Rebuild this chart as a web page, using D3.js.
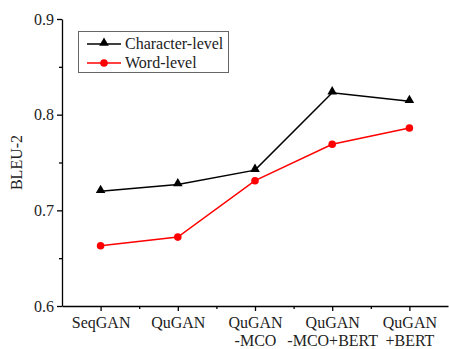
<!DOCTYPE html>
<html>
  <head>
    <meta charset="utf-8">
    <title>BLEU-2</title>
    <script src="https://d3js.org/d3.v7.min.js"></script>
    <style>
      body { margin: 0; background: #fff; }
      .axis path, .axis line { stroke: #000; stroke-width: 1.3; }
    </style>
  </head>
  <body>
    <svg id="chart" width="449" height="349"></svg>
    <script>
      // chart data
      var categories = [["SeqGAN"], ["QuGAN"], ["QuGAN", "-MCO"], ["QuGAN", "-MCO+BERT"], ["QuGAN", "+BERT"]];
      var charLevel = [0.720, 0.727, 0.742, 0.823, 0.814];
      var wordLevel = [0.663, 0.672, 0.731, 0.769, 0.786];
      var yTicks = [0.6, 0.7, 0.8, 0.9];
      var yMinorTicks = [0.65, 0.75, 0.85];
      var seriesNames = ["Character-level", "Word-level"];

      var serif = "'Liberation Serif', 'Times New Roman', 'DejaVu Serif', serif";
      var margin = { top: 19, right: 1, bottom: 43, left: 62 };
      var width = 449, height = 349;
      var chart = d3.select("#chart");

      var x = d3.scaleLinear()
        .domain([-0.5, categories.length - 0.5])
        .range([margin.left, width - margin.right]);
      var y = d3.scaleLinear()
        .domain([0.6, 0.9])
        .range([height - margin.bottom, margin.top]);

      // minor ticks
      var xMinor = d3.range(0.5, categories.length - 0.5, 1);
      chart.append("g").attr("class", "axis")
        .attr("transform", "translate(0," + y(0.6) + ")")
        .call(d3.axisBottom(x).tickValues(xMinor).tickSize(3).tickFormat(""))
        .select(".domain").remove();
      chart.append("g").attr("class", "axis")
        .attr("transform", "translate(" + margin.left + ",0)")
        .call(d3.axisLeft(y).tickValues(yMinorTicks).tickSize(3).tickFormat(""))
        .select(".domain").remove();

      // x axis
      var xAxisGroup = chart.append("g").attr("class", "axis")
        .attr("transform", "translate(0," + y(0.6) + ")")
        .call(d3.axisBottom(x).tickValues(d3.range(categories.length)).tickSize(5).tickSizeOuter(0).tickFormat(""));
      xAxisGroup.selectAll(".tick").append("text")
        .attr("fill", "#222")
        .attr("font-family", serif)
        .attr("font-size", 16)
        .attr("text-anchor", "middle")
        .selectAll("tspan")
        .data(function(d) { return categories[d]; })
        .join("tspan")
          .attr("x", 0)
          .attr("y", function(d, i) { return 22 + i * 18; })
          .text(function(d) { return d; });

      // y axis
      var yAxisGroup = chart.append("g").attr("class", "axis")
        .attr("transform", "translate(" + margin.left + ",0)")
        .call(d3.axisLeft(y).tickValues(yTicks).tickSize(5).tickSizeOuter(0).tickPadding(3).tickFormat(d3.format(".1f")));
      yAxisGroup.selectAll("text")
        .attr("font-family", serif)
        .attr("font-size", 16)
        .attr("fill", "#222");

      chart.append("text")
        .attr("transform", "translate(22," + ((y(0.6) + y(0.9)) / 2) + ") rotate(-90)")
        .attr("text-anchor", "middle")
        .attr("font-family", serif)
        .attr("font-size", 16)
        .attr("fill", "#222")
        .text("BLEU-2");

      // lines
      var line = d3.line()
        .x(function(d, i) { return x(i); })
        .y(function(d) { return y(d); });
      var triangle = d3.symbol().type(d3.symbolTriangle).size(40);

      chart.append("path")
        .attr("d", line(charLevel))
        .attr("fill", "none").attr("stroke", "#000").attr("stroke-width", 1.5);
      chart.append("path")
        .attr("d", line(wordLevel))
        .attr("fill", "none").attr("stroke", "#f00").attr("stroke-width", 1.5);

      chart.selectAll(".tri").data(charLevel).join("path")
        .attr("class", "tri")
        .attr("transform", function(d, i) { return "translate(" + x(i) + "," + (y(d) - 1) + ")"; })
        .attr("d", triangle)
        .attr("fill", "#000");
      chart.selectAll(".dot").data(wordLevel).join("circle")
        .attr("class", "dot")
        .attr("cx", function(d, i) { return x(i); })
        .attr("cy", function(d) { return y(d); })
        .attr("r", 3.8)
        .attr("fill", "#f00");

      // legend
      var legend = chart.append("g");
      legend.append("rect")
        .attr("x", 78.5).attr("y", 31.5).attr("width", 150).attr("height", 41)
        .attr("fill", "#fff").attr("stroke", "#666").attr("stroke-width", 1);
      var colours = ["#000", "#f00"];
      seriesNames.forEach(function(name, i) {
        var ly = 44 + i * 19;
        legend.append("line")
          .attr("x1", 87).attr("x2", 121).attr("y1", ly).attr("y2", ly)
          .attr("stroke", colours[i]).attr("stroke-width", 1.5);
        if (i === 0) {
          legend.append("path").attr("d", triangle)
            .attr("transform", "translate(104," + (ly - 1) + ")").attr("fill", "#000");
        } else {
          legend.append("circle").attr("cx", 104).attr("cy", ly).attr("r", 3.8).attr("fill", "#f00");
        }
        legend.append("text")
          .attr("x", 125).attr("y", ly + 5)
          .attr("font-family", serif)
          .attr("font-size", 16).attr("fill", "#222")
          .text(name);
      });
    </script>
  </body>
</html>
